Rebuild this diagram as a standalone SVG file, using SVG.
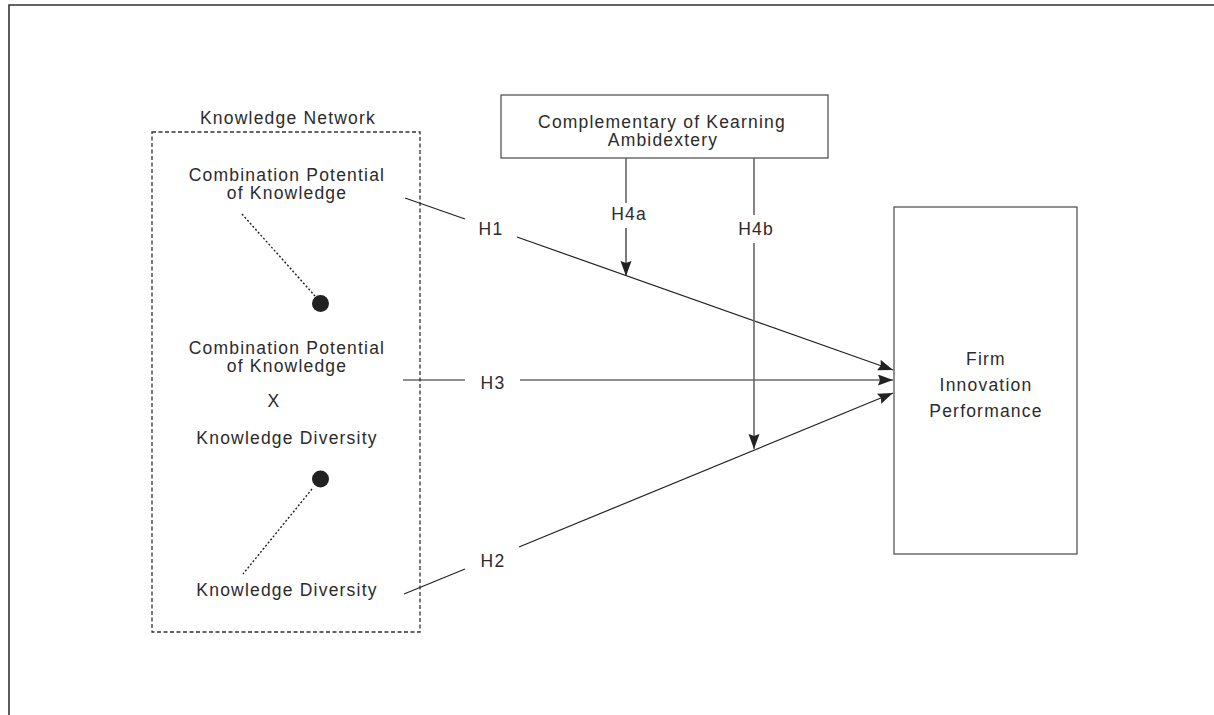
<svg xmlns="http://www.w3.org/2000/svg" width="1214" height="715" viewBox="0 0 1214 715">
<style>
text{font-family:"Liberation Sans",Arial,sans-serif;font-size:17.5px;fill:#2b2b2b;letter-spacing:1.2px;text-anchor:middle}
.ln{stroke:#222;stroke-width:1.2;fill:none}
.mod{stroke:#666;stroke-width:1.6;fill:none}
.box{stroke:#555;stroke-width:1.3;fill:#fff}
.dot{stroke:#222;stroke-width:1.4;stroke-dasharray:2 2;fill:none}
</style>
<defs>
<marker id="ah" markerUnits="userSpaceOnUse" markerWidth="16" markerHeight="12" refX="15" refY="5.5" orient="auto">
<path d="M0,0 L15,5.5 L0,11 L2,5.5 z" fill="#222"/>
</marker>
</defs>
<rect width="1214" height="715" fill="#fff"/>
<path d="M9,715 V5 H1214" stroke="#333" stroke-width="1.6" fill="none"/>
<g id="knowledge-network">
<rect x="152" y="132" width="268" height="500" fill="none" stroke="#333" stroke-width="1.3" stroke-dasharray="4 2.5"/>
<text x="288" y="124">Knowledge Network</text>
</g>
<g id="combination-potential">
<text x="287" y="181">Combination Potential</text>
<text x="287" y="199">of Knowledge</text>
</g>
<g id="interaction">
<text x="287" y="354">Combination Potential</text>
<text x="287" y="372">of Knowledge</text>
<text x="274" y="407">X</text>
<text x="287" y="444">Knowledge Diversity</text>
</g>
<g id="knowledge-diversity">
<text x="287" y="596">Knowledge Diversity</text>
</g>
<g id="dots">
<line class="dot" x1="242" y1="214" x2="315" y2="296"/>
<circle cx="320.5" cy="303.5" r="8.5" fill="#222"/>
<line class="dot" x1="312" y1="489" x2="243" y2="574"/>
<circle cx="320.5" cy="479" r="8.5" fill="#222"/>
</g>
<g id="moderator">
<rect class="box" x="501" y="95" width="327" height="63"/>
<text x="662" y="128">Complementary of Kearning</text>
<text x="663" y="146">Ambidextery</text>
</g>
<g id="firm-innovation-performance">
<rect class="box" x="894" y="207" width="183" height="347"/>
<text x="986" y="365">Firm</text>
<text x="986" y="391">Innovation</text>
<text x="986" y="417">Performance</text>
</g>
<g id="connectors">
<line class="ln" x1="405" y1="198" x2="465" y2="219"/>
<line class="ln" x1="517" y1="237" x2="893" y2="370" marker-end="url(#ah)"/>
<text x="491" y="235">H1</text>
<line class="ln" x1="403" y1="380" x2="465" y2="380"/>
<line class="ln" x1="520" y1="380" x2="893" y2="380" marker-end="url(#ah)"/>
<text x="493" y="389">H3</text>
<line class="ln" x1="404" y1="594" x2="465" y2="569"/>
<line class="ln" x1="519" y1="547" x2="893" y2="393" marker-end="url(#ah)"/>
<text x="493" y="567">H2</text>
<line class="mod" x1="626" y1="158" x2="626" y2="203"/>
<line class="ln" x1="626" y1="228" x2="626" y2="276" marker-end="url(#ah)"/>
<text x="629" y="220">H4a</text>
<line class="mod" x1="754" y1="158" x2="754" y2="215"/>
<line class="mod" x1="754" y1="243" x2="754" y2="449" marker-end="url(#ah)"/>
<text x="756" y="235">H4b</text>
</g>
</svg>
